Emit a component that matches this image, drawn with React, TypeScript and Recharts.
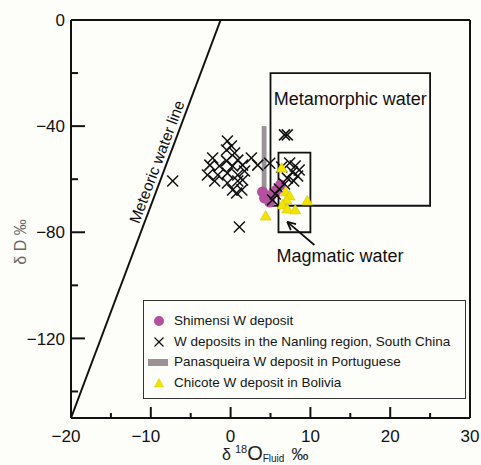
import { ScatterChart, Scatter, XAxis, YAxis, ReferenceLine, ReferenceArea, Legend } from "recharts";

const FONT = "'Liberation Sans', Arial, sans-serif";

// δ18O (x) vs δD (y), ‰
const shimensi = [
  { x: 4.0, y: -64.8 },
  { x: 4.25, y: -67.1 },
  { x: 4.9, y: -68.6 },
  { x: 5.1, y: -66.0 },
  { x: 5.75, y: -64.1 },
  { x: 6.25, y: -62.2 },
];

const nanling = [
  { x: -0.4, y: -45.6 }, { x: 0.1, y: -47.5 }, { x: -0.5, y: -49.0 }, { x: 0.5, y: -50.1 },
  { x: -2.25, y: -52.0 }, { x: -0.5, y: -53.1 }, { x: 0.9, y: -52.8 }, { x: -2.6, y: -54.7 },
  { x: -1.4, y: -55.0 }, { x: 0.25, y: -55.0 }, { x: 1.5, y: -54.7 }, { x: -2.9, y: -58.4 },
  { x: -1.6, y: -58.4 }, { x: -0.4, y: -57.7 }, { x: 0.9, y: -58.4 }, { x: 1.75, y: -56.9 },
  { x: -2.0, y: -60.7 }, { x: -0.4, y: -61.4 }, { x: 0.9, y: -60.7 }, { x: 1.5, y: -60.3 },
  { x: 0.25, y: -64.1 }, { x: 1.4, y: -64.1 }, { x: 0.75, y: -65.2 },
  { x: 2.6, y: -52.0 }, { x: 3.4, y: -54.7 }, { x: 4.9, y: -54.0 },
  { x: -7.25, y: -60.7 }, { x: 1.1, y: -78.0 },
  { x: 6.75, y: -43.3 }, { x: 7.1, y: -43.3 },
  { x: 6.4, y: -55.4 }, { x: 7.4, y: -53.9 }, { x: 8.1, y: -55.0 }, { x: 8.6, y: -56.5 },
  { x: 7.75, y: -57.3 }, { x: 8.4, y: -58.8 }, { x: 7.1, y: -59.6 }, { x: 7.9, y: -60.7 },
  { x: 6.75, y: -61.8 }, { x: 6.1, y: -63.7 }, { x: 5.6, y: -65.6 }, { x: 5.25, y: -67.8 },
];

const chicote = [
  { x: 6.4, y: -55.8 },
  { x: 6.9, y: -64.8 },
  { x: 7.4, y: -66.3 },
  { x: 7.0, y: -67.8 },
  { x: 6.5, y: -69.7 },
  { x: 7.1, y: -71.2 },
  { x: 8.1, y: -71.6 },
  { x: 9.6, y: -68.2 },
  { x: 4.4, y: -73.9 },
];

// Panasqueira range (δ18O band, δD range)
const panasqueiraO = [3.9, 4.5];
const panasqueiraD = [-65, -40];

const meteoricLine = [{ x: -20, y: -150 }, { x: -1.25, y: 0 }];
const metamorphicO = [5, 25];
const metamorphicD = [-70, -20];
const magmaticO = [6, 10];
const magmaticD = [-80, -50];
const magmaticArrow = [{ x: 10.5, y: -84.8 }, { x: 7.1, y: -76.1 }];

const xTicks = [-20, -15, -10, -5, 0, 5, 10, 15, 20, 25, 30];
const yTicks = [-140, -120, -100, -80, -60, -40, -20, 0];

const PURPLE = "#b4509e";
const YELLOW = "#f2e300";
const GREY = "#9a9296";

const fmt = (v: number) => (v < 0 ? "\u2212" + Math.abs(v) : String(v));

const XTick = (p: any) => {
  const v = p.payload.value;
  const major = v % 10 === 0;
  const digits = String(Math.abs(v));
  return (
    <g>
      <line x1={p.x} y1={p.y} x2={p.x} y2={p.y - (major ? 11 : 5)} stroke="#111" strokeWidth={2} />
      {major && (
        <text x={p.x + (digits.length * 0.556 * 17) / 2} y={p.y + 24} textAnchor="end" fontSize={17} fontFamily={FONT} fill="#111">
          {fmt(v)}
        </text>
      )}
    </g>
  );
};

const YTick = (p: any) => {
  const v = p.payload.value;
  const major = v % 40 === 0;
  return (
    <g>
      <line x1={p.x} y1={p.y} x2={p.x + (major ? 14 : 7)} y2={p.y} stroke="#111" strokeWidth={2} />
      {major && (
        <text x={p.x - 6} y={p.y} dy="0.36em" textAnchor="end" fontSize={17} fontFamily={FONT} fill="#111">
          {fmt(v)}
        </text>
      )}
    </g>
  );
};

const Dot = (p: any) => <circle cx={p.cx} cy={p.cy} r={5.5} fill={PURPLE} />;

const Cross = (p: any) => (
  <g stroke="#111" strokeWidth={1.5}>
    <line x1={p.cx - 5.5} y1={p.cy - 5.5} x2={p.cx + 5.5} y2={p.cy + 5.5} />
    <line x1={p.cx - 5.5} y1={p.cy + 5.5} x2={p.cx + 5.5} y2={p.cy - 5.5} />
  </g>
);

const Tri = (p: any) => (
  <polygon
    points={`${p.cx},${p.cy - 5.5} ${p.cx - 5.5},${p.cy + 4} ${p.cx + 5.5},${p.cy + 4}`}
    fill={YELLOW}
    stroke="#d8c800"
    strokeWidth={0.6}
  />
);

const MeteoricShape = (p: any) => {
  const { x1, y1, x2, y2 } = p;
  const dx = x2 - x1;
  const dy = y2 - y1;
  const len = Math.hypot(dx, dy);
  const ang = (Math.atan2(dy, dx) * 180) / Math.PI;
  const t = 0.635;
  const cx = x1 + dx * t + (dy / len) * 10;
  const cy = y1 + dy * t - (dx / len) * 10;
  return (
    <g>
      <line x1={x1} y1={y1} x2={x2} y2={y2} stroke="#111" strokeWidth={2} />
      <text
        x={cx}
        y={cy}
        dy="0.36em"
        textAnchor="middle"
        fontSize={15.5}
        fontFamily={FONT}
        fill="#111"
        transform={`rotate(${ang}, ${cx}, ${cy})`}
      >
        Meteoric water line
      </text>
    </g>
  );
};

const ArrowShape = (p: any) => {
  const { x1, y1, x2, y2 } = p;
  const a = Math.atan2(y2 - y1, x2 - x1);
  const h = 9;
  const w = 0.45;
  return (
    <g stroke="#111" strokeWidth={1.8} fill="none">
      <line x1={x1} y1={y1} x2={x2} y2={y2} />
      <line x1={x2} y1={y2} x2={x2 - h * Math.cos(a - w)} y2={y2 - h * Math.sin(a - w)} />
      <line x1={x2} y1={y2} x2={x2 - h * Math.cos(a + w)} y2={y2 - h * Math.sin(a + w)} />
    </g>
  );
};

const legendItems = [
  { label: "Shimensi W deposit", kind: "dot" },
  { label: "W deposits in the Nanling region, South China", kind: "cross" },
  { label: "Panasqueira W deposit in Portuguese", kind: "bar" },
  { label: "Chicote W deposit in Bolivia", kind: "tri" },
];

const LegendMarker = ({ kind }: { kind: string }) => (
  <svg width={26} height={14} style={{ position: "absolute", left: 2, top: 3 }}>
    {kind === "dot" && <circle cx={13} cy={7} r={5} fill={PURPLE} />}
    {kind === "cross" && (
      <g stroke="#111" strokeWidth={1.3}>
        <line x1={8.5} y1={2.5} x2={17.5} y2={11.5} />
        <line x1={8.5} y1={11.5} x2={17.5} y2={2.5} />
      </g>
    )}
    {kind === "bar" && <rect x={2} y={4} width={20} height={7} fill={GREY} />}
    {kind === "tri" && <polygon points="13,2.5 8.5,11 17.5,11" fill={YELLOW} stroke="#d8c800" strokeWidth={0.5} />}
  </svg>
);

const LegendBox = () => (
  <div
    style={{
      width: 323,
      height: 99,
      boxSizing: "border-box",
      border: "1.3px solid #333",
      fontFamily: FONT,
      fontSize: 13.5,
      color: "#151515",
      paddingTop: 10,
    }}
  >
    {legendItems.map((it) => (
      <div key={it.label} style={{ position: "relative", height: 20.7, lineHeight: "20px", paddingLeft: 30, whiteSpace: "nowrap" }}>
        <LegendMarker kind={it.kind} />
        {it.label}
      </div>
    ))}
  </div>
);

export default function App() {
  return (
    <div style={{ position: "absolute", left: 0, top: 0, width: 481, height: 465, background: "#fdfdfa", overflow: "hidden" }}>
      <ScatterChart width={481} height={465} margin={{ top: 20, right: 11, left: 0, bottom: 0 }}>
        <XAxis
          type="number"
          dataKey="x"
          domain={[-20, 30]}
          ticks={xTicks}
          interval={0}
          tickSize={0}
          tickMargin={0}
          tickLine={false}
          tick={XTick}
          height={47}
          axisLine={{ stroke: "#111", strokeWidth: 2 }}
          allowDataOverflow
          label={{
            content: (lp: any) => {
              const vb = lp.viewBox;
              const x0 = vb.x + 151;
              return (
                <text x={x0} y={vb.y + 42} fontFamily={FONT} fill="#222" fontSize={16}>
                  <tspan>δ</tspan>
                  <tspan dx={4} dy={-7} fontSize={11}>18</tspan>
                  <tspan dy={7} fontSize={20}>O</tspan>
                  <tspan dy={2} fontSize={10}>Fluid</tspan>
                  <tspan dx={7} dy={-2} fontSize={17}>‰</tspan>
                </text>
              );
            },
          }}
        />
        <YAxis
          type="number"
          dataKey="y"
          domain={[-150, 0]}
          ticks={yTicks}
          interval={0}
          tickSize={0}
          tickMargin={0}
          tickLine={false}
          tick={YTick}
          width={71}
          axisLine={{ stroke: "#111", strokeWidth: 2 }}
          allowDataOverflow
          label={{
            content: (lp: any) => {
              const vb = lp.viewBox;
              const cx = vb.x + 20;
              const cy = vb.y + vb.height / 2 + 23;
              return (
                <text x={cx} y={cy} dy="0.36em" textAnchor="middle" fontFamily={FONT} fontSize={16} fill="#666" transform={`rotate(-90, ${cx}, ${cy})`}>
                  δ D  ‰
                </text>
              );
            },
          }}
        />
        <ReferenceLine y={0} stroke="#111" strokeWidth={2} />
        <ReferenceLine x={30} stroke="#111" strokeWidth={2} />
        <ReferenceLine segment={meteoricLine} shape={MeteoricShape} />
        <ReferenceArea
          x1={metamorphicO[0]}
          x2={metamorphicO[1]}
          y1={metamorphicD[0]}
          y2={metamorphicD[1]}
          fill="none"
          fillOpacity={0}
          stroke="#111"
          strokeWidth={1.8}
          label={{
            content: (lp: any) => {
              const vb = lp.viewBox;
              return (
                <text x={vb.x + vb.width / 2} y={vb.y + 32} textAnchor="middle" fontFamily={FONT} fontSize={18} fill="#111">
                  Metamorphic water
                </text>
              );
            },
          }}
        />
        <ReferenceArea
          x1={magmaticO[0]}
          x2={magmaticO[1]}
          y1={magmaticD[0]}
          y2={magmaticD[1]}
          fill="none"
          fillOpacity={0}
          stroke="#111"
          strokeWidth={1.8}
          label={{
            content: (lp: any) => {
              const vb = lp.viewBox;
              return (
                <text x={vb.x - 2} y={vb.y + vb.height + 30} textAnchor="start" fontFamily={FONT} fontSize={18} fill="#111">
                  Magmatic water
                </text>
              );
            },
          }}
        />
        <ReferenceLine segment={magmaticArrow} shape={ArrowShape} />
        <ReferenceArea
          x1={panasqueiraO[0]}
          x2={panasqueiraO[1]}
          y1={panasqueiraD[0]}
          y2={panasqueiraD[1]}
          fill={GREY}
          fillOpacity={1}
          stroke="none"
        />
        <Scatter name="Shimensi W deposit" data={shimensi} shape={Dot} isAnimationActive={false} />
        <Scatter name="Nanling" data={nanling} shape={Cross} isAnimationActive={false} />
        <Scatter name="Chicote" data={chicote} shape={Tri} isAnimationActive={false} />
        <Legend
          layout="vertical"
          align="center"
          verticalAlign="middle"
          content={LegendBox}
          wrapperStyle={{ left: 143, top: 300, width: 323, height: 99 }}
        />
      </ScatterChart>
    </div>
  );
}
